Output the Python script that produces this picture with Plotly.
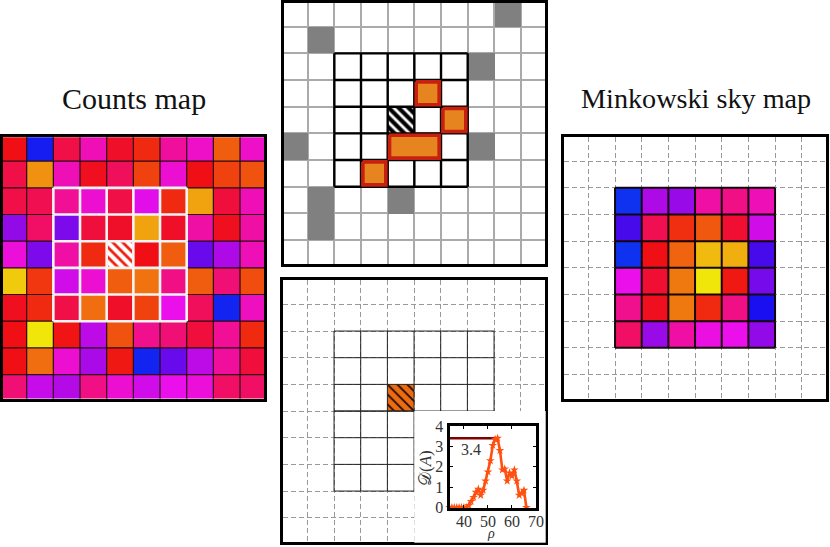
import plotly.graph_objects as go

# colour values of the cells, 0 = blue end, 1 = yellow end
counts = [
    [.60, .03, .55, .42, .58, .66, .45, .40, .76, .40],
    [.55, .85, .42, .59, .53, .71, .39, .60, .71, .74],
    [.55, .54, .46, .39, .55, .35, .66, .88, .56, .42],
    [.24, .52, .20, .56, .58, .88, .58, .44, .59, .44],
    [.38, .20, .44, .66, .60, .60, .76, .17, .29, .42],
    [.95, .69, .33, .39, .76, .80, .48, .76, .50, .73],
    [.59, .66, .55, .79, .58, .71, .36, .53, .02, .41],
    [.60, 1.0, .61, .31, .74, .47, .50, .56, .46, .66],
    [.60, .79, .39, .28, .62, .02, .17, .31, .45, .56],
    [.50, .32, .30, .48, .39, .33, .36, .38, .52, .52],
]
sky = [
    [.00, .29, .25, .44, .48, .42],
    [.12, .54, .67, .75, .57, .33],
    [.00, .60, .77, .92, .90, .12],
    [.36, .57, .81, 1.0, .62, .19],
    [.47, .59, .81, .66, .48, .05],
    [.52, .25, .44, .37, .36, .24],
]
gray_cells = [(0, 8), (1, 1), (2, 7), (5, 0), (5, 7), (7, 1), (7, 4), (8, 1)]
orange_cells = [(3, 5), (4, 6), (5, 4), (5, 5), (6, 3)]
# (row, col, n rows, n cols)
red_boxes = [(3, 5, 1, 1), (4, 6, 1, 1), (5, 4, 1, 2), (6, 3, 1, 1)]

rho = [34, 35, 36, 37, 38, 39, 40, 41, 42, 43, 44, 45, 46, 47, 48, 49, 50, 51, 52,
       53, 54, 55, 56, 57, 58, 59, 60, 61, 62, 63, 64, 65, 66]
dim = [0, 0, 0, 0, 0, 0, 0, 0, .1, .3, .5, .75, .9, .6, .85, 1.3, 1.75, 2.3, 3.05,
       3.35, 3.4, 2.8, 1.85, 1.9, 1.3, 1.7, 1.55, 1.85, 1.3, .6, .7, .85, 0]
rho_max = 53
dim_max = 3.4

hot = [[0, "#0f32f0"], [.05, "#190ff0"], [.12, "#460aeb"], [.2, "#7d0aeb"], [.3, "#b40ae6"],
       [.36, "#eb0feb"], [.44, "#f00fa5"], [.52, "#f00f64"], [.6, "#f00f14"], [.7, "#f03c0f"],
       [.8, "#f0730f"], [.9, "#f0af0f"], [1, "#f0e60a"]]

W, H = 830, 547
UNIT = 26.67
SERIF = "Liberation Serif"


def dom(x0, y0, x1, y1):
    return [x0 / W, x1 / W], [1 - y1 / H, 1 - y0 / H]


def map_axes(n, left, top):
    # ten cells per side, the frame sits on the outer 0.1 of a cell
    dx, dy = dom(left + .1 * UNIT, top + .1 * UNIT, left + 9.9 * UNIT, top + 9.9 * UNIT)
    common = dict(tick0=0, dtick=1, showticklabels=False, ticks="", zeroline=False,
                  showline=True, mirror=True, linecolor="black", linewidth=3)
    return {
        f"xaxis{n}": dict(domain=dx, range=[.1, 9.9], anchor=f"y{n}", **common),
        f"yaxis{n}": dict(domain=dy, range=[9.9, .1], anchor=f"x{n}", **common),
    }


def cells(c0, c1, r0, r1, skip=()):
    # outline of every cell in a block, skip holds vertical edges left open
    xs, ys = [], []
    for c in range(c0, c1 + 1):
        for r in range(r0, r1):
            if (r, c) not in skip:
                xs += [c, c, None]
                ys += [r, r + 1, None]
    for r in range(r0, r1 + 1):
        xs += [c0, c1, None]
        ys += [r, r, None]
    return xs, ys


def lines(xy, color, width, n):
    return go.Scatter(x=xy[0], y=xy[1], mode="lines", line=dict(color=color, width=width),
                      xaxis=f"x{n}", yaxis=f"y{n}", showlegend=False, hoverinfo="skip")


def hatch(row, col, fg, bg, n, size=7, solidity=.6):
    return go.Bar(x=[col + .5], y=[1], base=[row], width=[1], xaxis=f"x{n}", yaxis=f"y{n}",
                  marker=dict(color=bg, line_width=0, opacity=1,
                              pattern=dict(shape="\\", fgcolor=fg, bgcolor=bg, fgopacity=1,
                                           size=size, solidity=solidity)),
                  showlegend=False, hoverinfo="skip")


fig = go.Figure()

# counts map
fig.add_trace(go.Heatmap(z=counts, x=[i + .5 for i in range(10)], y=[i + .5 for i in range(10)],
                         colorscale=hot, zmin=0, zmax=1, showscale=False, xaxis="x", yaxis="y", hoverinfo="skip"))
fig.add_trace(hatch(4, 4, "white", "#f01f0f", ""))
fig.add_trace(lines(cells(0, 10, 0, 10), "#2a0a14", 1.2, ""))
fig.add_trace(lines(cells(2, 7, 2, 7), "#f4f4f4", 2.6, ""))

# pixel classes
classes = [[None] * 10 for _ in range(10)]
for r, c in gray_cells:
    classes[r][c] = 0
for r, c in orange_cells:
    classes[r][c] = 1
fig.add_trace(go.Heatmap(z=classes, x=[i + .5 for i in range(10)], y=[i + .5 for i in range(10)],
                         colorscale=[[0, "#808080"], [1, "#e68420"]], zmin=0, zmax=1, showscale=False,
                         xaxis="x2", yaxis="y2", hoverinfo="skip"))
fig.add_trace(hatch(4, 4, "black", "white", 2))
fig.add_trace(lines(cells(2, 7, 2, 7, skip=[(5, 5)]), "black", 2.4, 2))
box_x, box_y = [], []
for r, c, nr, nc in red_boxes:
    a, b = c + .07, c + nc - .07
    t, u = r + .07, r + nr - .07
    box_x += [a, b, b, a, a, None]
    box_y += [t, t, u, u, t, None]
fig.add_trace(lines((box_x, box_y), "#c8200f", 3.6, 2))

# selected region
fig.add_trace(hatch(4, 4, "#1a0a00", "#ec6a10", 3, size=7, solidity=.25))
fig.add_trace(lines(cells(2, 8, 2, 5), "#222222", 1, 3))
fig.add_trace(lines(cells(2, 5, 5, 8), "#222222", 1, 3))

# minkowski sky map
fig.add_trace(go.Heatmap(z=sky, x=[i + 2.5 for i in range(6)], y=[i + 2.5 for i in range(6)],
                         colorscale=hot, zmin=0, zmax=1, showscale=False, xaxis="x4", yaxis="y4", hoverinfo="skip"))
fig.add_trace(lines(cells(2, 8, 2, 8), "#14060a", 2, 4))

# white patch behind the inset
fig.add_trace(go.Scatter(x=[None], y=[None], xaxis="x5", yaxis="y5", showlegend=False, hoverinfo="skip"))

# inset curve
fig.add_trace(go.Scatter(x=[rho[0], rho_max], y=[dim_max, dim_max], mode="lines",
                         line=dict(color="#800000", width=2.6),
                         xaxis="x6", yaxis="y6", showlegend=False, hoverinfo="skip"))
fig.add_trace(go.Scatter(x=rho, y=dim, mode="lines+markers", line=dict(color="#ff5010", width=2.6),
                         marker=dict(symbol="star", size=6.5, color="#ff5010"), cliponaxis=False,
                         xaxis="x6", yaxis="y6", showlegend=False, hoverinfo="skip"))

layout = dict(width=W, height=H, margin=dict(l=0, r=0, t=0, b=0, pad=0, autoexpand=False), autosize=False,
              paper_bgcolor="white", plot_bgcolor="white", hovermode=False,
              font=dict(family=SERIF, color="#222222"), showlegend=False)
layout.update(map_axes("", 0, 134.5))
layout.update(map_axes(2, 281, 0))
layout.update(map_axes(3, 280.7, 277.7))
layout.update(map_axes(4, 561.7, 134.5))
for k in ("xaxis", "yaxis"):
    layout[k].update(showgrid=False)
    layout[k + "2"].update(showgrid=True, gridcolor="#aaaaaa", gridwidth=1.5)
    layout[k + "3"].update(showgrid=True, gridcolor="#999999", gridwidth=1, griddash="5px,3px")
    layout[k + "4"].update(showgrid=True, gridcolor="#999999", gridwidth=1, griddash="5px,3px")

dx, dy = dom(414.3, 411, 545.7, 542.7)
layout["xaxis5"] = dict(domain=dx, range=[0, 1], anchor="y5", visible=False)
layout["yaxis5"] = dict(domain=dy, range=[0, 1], anchor="x5", visible=False)

dx, dy = dom(449.5, 426, 536, 507.5)
inset = dict(showgrid=False, zeroline=False, showline=True, mirror="allticks", linecolor="black", linewidth=3,
             ticks="inside", ticklen=3, tickwidth=1, tickcolor="black",
             tickfont=dict(family=SERIF, size=16, color="#333333"))
layout["xaxis6"] = dict(domain=dx, range=[34, 70], anchor="y6", tickvals=[40, 50, 60, 70],
                        ticklabelstandoff=-3, **inset)
layout["yaxis6"] = dict(domain=dy, range=[0, 4], anchor="x6", tickvals=[0, 1, 2, 3, 4], **inset)


def note(text, x, y, size, color="#333333", angle=0):
    return dict(text=text, x=x / W, y=1 - y / H, xref="paper", yref="paper", showarrow=False,
                xanchor="center", yanchor="middle", textangle=angle,
                font=dict(family=SERIF, size=size, color=color))


layout["annotations"] = [
    note("Counts map", 134, 99, 30, "#111111"),
    note("Minkowski sky map", 696, 99, 28.2, "#111111"),
    note("3.4", 471, 449, 16),
    note("<i>ρ</i>", 491, 533, 14),
    note("𝒟(<i>A</i>)", 425, 468, 17, angle=-90),
]
fig.update_layout(**layout)

fig.write_html("out.html", config=dict(displayModeBar=False),
               post_script="document.body.style.margin='0';")
